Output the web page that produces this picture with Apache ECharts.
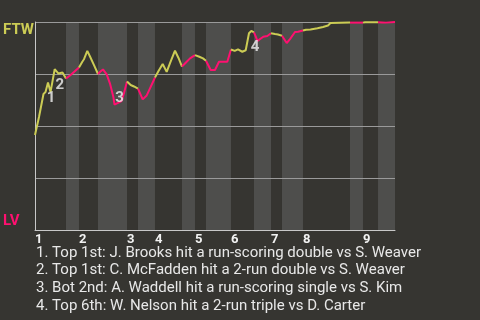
<!DOCTYPE html>
<html>
<head>
<meta charset="utf-8">
<script src="https://cdn.jsdelivr.net/npm/echarts@6/dist/echarts.min.js"></script>
<style>
html,body{margin:0;padding:0;background:#363531;}
#chart{width:480px;height:320px;}
</style>
</head>
<body>
<div id="chart"></div>
<script>
// Win-probability (FTW perspective, %) by play position (0-100 game progress)
const playX = [0,1.11,2.36,2.92,3.61,4.31,5.47,6.53,7.64,8.61,
  9.72,10.83,12.22,
  13.14,13.61,14.53,15.28,16.39,17.5,
  18.19,18.89,19.92,20.83,21.75,22.08,24.03,24.72,25.56,
  26.58,27.5,28.61,
  29.92,31.03,31.94,33.33,
  34.31,35.47,36.58,37.64,38.89,39.86,40.83,
  42.14,43.06,44.44,
  45.64,46.67,47.5,
  48.81,50.0,51.11,52.22,53.42,54.44,
  55.47,56.39,57.58,58.53,59.44,60.08,60.83,
  61.81,63.42,64.53,65.56,
  66.67,67.5,68.61,
  69.92,70.83,72.22,73.06,74.44,
  75.28,76.53,76.81,78.47,78.75,80.0,80.28,81.39,82.08,82.36,87.5,
  91.11,
  91.67,95.28,
  96.39,96.94,97.5,100];
const playY = [45.7,54.3,65.4,66.3,70.9,66.3,77.3,75.2,75.7,72.8,
  74.3,76.0,78.1,
  80.9,82.1,86.1,83.4,79.3,75.0,
  76.2,77.2,74.8,70.4,64.1,60.3,62.0,65.9,71.4,
  69.7,69.0,68.0,
  62.8,64.7,68.1,73.3,
  76.4,79.8,76.0,80.8,86.2,82.7,78.6,
  80.9,82.5,84.1,
  83.3,82.5,81.4,
  76.9,76.9,80.9,80.9,80.9,86.8,
  86.1,86.8,85.7,86.4,94.6,95.7,95.0,
  90.9,92.9,93.3,94.6,
  94.2,94.0,93.4,
  89.9,91.8,95.2,95.3,95.9,
  96.3,96.4,96.9,97.0,97.5,97.6,98.1,98.3,99.5,99.7,99.7,
  99.7,
  99.9,99.9,
  99.8,99.5,99.7,100];
// plays per half-inning (top 1st, bot 1st, ...)
const halfCounts = [10,3,6,9,3,4,7,3,3,6,7,4,3,5,11,1,2,4];
// half-inning boundaries on the play axis
const bandEdges = [0,8.61,12.22,17.5,25.56,28.61,33.33,40.83,44.44,47.5,54.44,60.83,65.56,68.61,74.44,87.5,91.11,95.28,100];
const inningLabels = ['1','2','3','4','5','6','7','8','9'];
const eventPlayIndex = [4,6,24,58];
const eventNotes = [
  '1. Top 1st: J. Brooks hit a run-scoring double vs S. Weaver',
  '2. Top 1st: C. McFadden hit a 2-run double vs S. Weaver',
  '3. Bot 2nd: A. Waddell hit a run-scoring single vs S. Kim',
  '4. Top 6th: W. Nelson hit a 2-run triple vs D. Carter'
];

// styles
const YELLOW = '#cccc55';
const PINK = '#ff1070';
const BAND = '#4e4e4c';
const labelOffsets = [[3,16],[5,16],[5,-6],[6,14.5]];
const FONT = 'Roboto, "Noto Sans", sans-serif';

const chart = echarts.init(document.getElementById('chart'), null, {renderer:'canvas'});

// build half-inning line series
const series = [];
let start = 0;
halfCounts.forEach((n, k) => {
  const from = k === 0 ? 0 : start - 1;
  const end = start + n;
  const data = [];
  for (let i = from; i < end; i++) data.push([playX[i], playY[i]]);
  series.push({
    type: 'line', data, symbol: 'none', z: 2,
    lineStyle: {color: k % 2 === 0 ? YELLOW : PINK, width: 2},
    animation: false
  });
  start = end;
});

// band series (bottom halves shaded)
const bands = [];
for (let k = 1; k < bandEdges.length - 1; k += 2) bands.push([bandEdges[k], bandEdges[k+1]]);
series.unshift({
  type: 'custom', z: -1, silent: true, animation: false,
  data: bands,
  renderItem: (params, api) => {
    const p0 = api.coord([api.value(0), 100]);
    const p1 = api.coord([api.value(1), 0]);
    return {type: 'rect', shape: {x: p0[0], y: p0[1], width: p1[0]-p0[0], height: p1[1]-p0[1]},
      style: {fill: BAND}};
  },
  encode: {x: [0,1]}
});

// event markers
series.push({
  type: 'scatter', z: 5, symbolSize: 0, animation: false,
  data: eventPlayIndex.map((idx, i) => ({
    value: [playX[idx], playY[idx]],
    label: {show: true, position: 'inside', offset: labelOffsets[i], formatter: String(i+1),
      color: '#f2f2f2', fontWeight: 'bold', fontSize: 15, fontFamily: FONT}
  }))
});

// inning label positions: start of each top half
const inningStarts = [];
for (let k = 0; k < bandEdges.length - 1; k += 2) inningStarts.push(bandEdges[k]);

chart.setOption({
  backgroundColor: '#363531',
  animation: false,
  grid: {left: 35, top: 22, width: 360, height: 208},
  xAxis: {
    type: 'value', min: 0, max: 100,
    axisLine: {show: true, lineStyle: {color: '#c8c8c8', width: 1}},
    axisTick: {show: false},
    splitLine: {show: false},
    axisLabel: {
      show: true, customValues: inningStarts, align: 'left', margin: 3,
      color: '#f2f2f2', fontWeight: 'bold', fontSize: 13, fontFamily: FONT,
      formatter: (v) => {
        const i = inningStarts.findIndex(s => Math.abs(s - v) < 1e-6);
        return i >= 0 ? inningLabels[i] : '';
      }
    }
  },
  yAxis: {
    type: 'value', min: 0, max: 100, interval: 25,
    axisLine: {show: true, lineStyle: {color: '#c8c8c8', width: 1}},
    axisTick: {show: false},
    axisLabel: {show: false},
    splitLine: {show: true, lineStyle: {color: '#9a9a9a', width: 1}}
  },
  graphic: [
    {type: 'text', left: 3, top: 23, style: {text: 'FTW', fill: YELLOW, font: 'bold 15px ' + FONT}},
    {type: 'text', left: 3, top: 214, style: {text: 'LV', fill: PINK, font: 'bold 15px ' + FONT}},
    {type: 'text', left: 36, top: 244, style: {text: eventNotes.join('\n'), fill: '#e8e8e8',
      font: '15px ' + FONT, lineHeight: 17.7}}
  ],
  series
});
</script>
</body>
</html>
